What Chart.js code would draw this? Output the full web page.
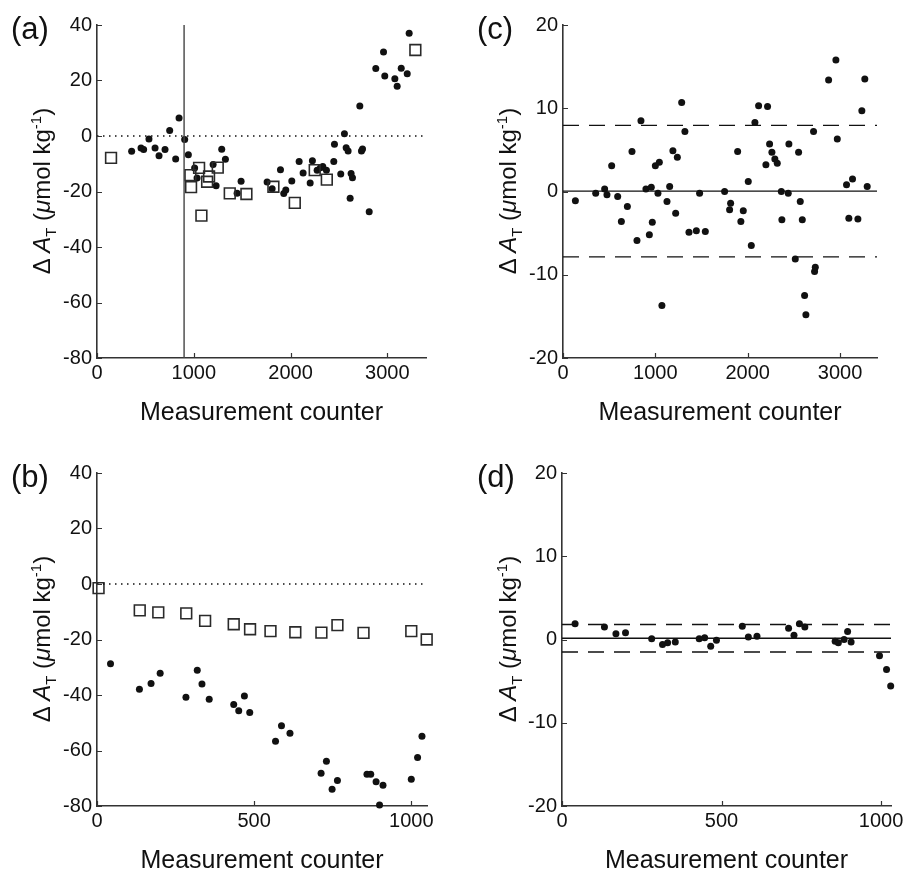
<!DOCTYPE html>
<html lang="en">
<head>
<meta charset="UTF-8">
<title>Delta A_T vs measurement counter</title>
<script src="https://cdn.jsdelivr.net/npm/chart.js"></script>
<style>
    html, body {
        margin: 0;
        padding: 0;
        background: #fff;
        overflow: hidden;
    }
    body {
        width: 906px;
        height: 873px;
        position: relative;
        font-family: 'Liberation Sans', Arial, Helvetica, sans-serif;
        color: #111;
    }
    canvas {
        position: absolute;
    }
    .panel-tag {
        position: absolute;
        font-size: 31px;
        line-height: 1;
    }
    .ytitle {
        position: absolute;
        font-size: 24px;
        white-space: nowrap;
        transform: translate(-50%, -50%) rotate(-90deg);
    }
    .ytitle sub, .ytitle sup {
        font-size: 15px;
        line-height: 0;
    }
</style>
</head>
<body>
<canvas id="chartA" width="414" height="430" style="left:37px; top:8px;"></canvas>
<canvas id="chartC" width="399" height="430" style="left:503px; top:8px;"></canvas>
<canvas id="chartB" width="415" height="430" style="left:37px; top:456px;"></canvas>
<canvas id="chartD" width="414" height="430" style="left:502px; top:456px;"></canvas>

<div class="panel-tag" style="left:11px; top:13px;">(a)</div>
<div class="panel-tag" style="left:477px; top:13px;">(c)</div>
<div class="panel-tag" style="left:11px; top:461px;">(b)</div>
<div class="panel-tag" style="left:477px; top:461px;">(d)</div>

<div class="ytitle" style="left:42px; top:191px;">&Delta; <i>A</i><sub>T</sub> (<i>&mu;</i>mol kg<sup>-1</sup>)</div>
<div class="ytitle" style="left:508px; top:191px;">&Delta; <i>A</i><sub>T</sub> (<i>&mu;</i>mol kg<sup>-1</sup>)</div>
<div class="ytitle" style="left:42px; top:639px;">&Delta; <i>A</i><sub>T</sub> (<i>&mu;</i>mol kg<sup>-1</sup>)</div>
<div class="ytitle" style="left:508px; top:639px;">&Delta; <i>A</i><sub>T</sub> (<i>&mu;</i>mol kg<sup>-1</sup>)</div>

<script>
// tick labels
const longTicks = [0, 1000, 2000, 3000];
const shortTicks = [0, 500, 1000];
const bigYTicks = [-80, -60, -40, -20, 0, 20, 40];
const smallYTicks = [-20, -10, 0, 10, 20];

// panel (a): dots and squares, long series
const aDotX = [358, 455, 482, 537, 600, 641, 703, 751, 813, 848, 906, 944, 1009, 1034, 1200, 1231, 1289, 1327, 1448, 1489,
    1758, 1810, 1896, 1930, 1951, 2013, 2089, 2130, 2203, 2226, 2275, 2309, 2333, 2371, 2447, 2454, 2519, 2557, 2575, 2595,
    2616, 2626, 2640, 2716, 2733, 2744, 2813, 2881, 2961, 2974, 3078, 3102, 3144, 3206, 3226];
const aDotY = [-5.5, -4.3, -4.9, -1.1, -4.3, -7.1, -4.9, 2.0, -8.3, 6.5, -1.3, -6.8, -11.5, -15.1, -10.3, -17.9, -4.8, -8.4, -20.6, -16.3,
    -16.6, -19.0, -12.2, -20.7, -19.5, -16.2, -9.2, -13.3, -16.9, -8.9, -12.3, -11.4, -11.0, -12.3, -9.2, -3.0, -13.7, 0.8, -4.2, -5.4,
    -22.4, -13.5, -15.0, 10.8, -5.4, -4.7, -27.3, 24.3, 30.3, 21.6, 20.6, 17.9, 24.4, 22.4, 37.0];
const aSqX = [145, 965, 972, 1055, 1079, 1138, 1158, 1248, 1372, 1544, 1823, 2044, 2250, 2375, 3290];
const aSqY = [-7.9, -14.1, -18.4, -11.5, -28.7, -16.5, -14.6, -11.4, -20.7, -20.9, -18.3, -24.1, -12.3, -15.7, 31.0];
const aSplit = 900;

// panel (c): residuals, long series
const cX = [134, 354, 451, 476, 527, 592, 632, 697, 747, 801, 844, 898, 935, 956, 967, 1000, 1028, 1043, 1071, 1126,
    1155, 1190, 1220, 1238, 1285, 1320, 1364, 1444, 1479, 1541, 1750, 1804, 1815, 1891, 1926, 1952, 2006, 2039, 2078, 2118,
    2197, 2215, 2237, 2262, 2294, 2320, 2364, 2370, 2439, 2446, 2515, 2551, 2569, 2591, 2616, 2630, 2713, 2724, 2732, 2876,
    2955, 2970, 3070, 3095, 3135, 3193, 3236, 3268, 3294];
const cY = [-1.1, -0.2, 0.3, -0.4, 3.1, -0.6, -3.6, -1.8, 4.8, -5.9, 8.5, 0.3, -5.2, 0.5, -3.7, 3.1, -0.2, 3.5, -13.7, -1.2,
    0.6, 4.9, -2.6, 4.1, 10.7, 7.2, -4.9, -4.7, -0.2, -4.8, 0.0, -2.2, -1.4, 4.8, -3.6, -2.3, 1.2, -6.5, 8.3, 10.3,
    3.2, 10.2, 5.7, 4.7, 3.9, 3.4, 0.0, -3.4, -0.2, 5.7, -8.1, 4.7, -1.2, -3.4, -12.5, -14.8, 7.2, -9.6, -9.1, 13.4,
    15.8, 6.3, 0.8, -3.2, 1.5, -3.3, 9.7, 13.5, 0.6];
const cBands = [0.05, 7.95, -7.85];   // mean, upper, lower

// panel (b): short series
const bSqX = [5, 136, 195, 284, 344, 435, 487, 552, 631, 714, 765, 848, 1000, 1049];
const bSqY = [-1.5, -9.5, -10.2, -10.6, -13.3, -14.5, -16.3, -17.0, -17.4, -17.5, -14.8, -17.6, -17.0, -20.0];
const bDotX = [43, 135, 172, 201, 283, 319, 334, 357, 435, 451, 469, 486, 568, 587, 614, 713, 730, 748, 765, 859,
    871, 888, 899, 910, 1000, 1020, 1034];
const bDotY = [-28.7, -37.9, -35.9, -32.2, -40.8, -31.1, -36.0, -41.5, -43.4, -45.7, -40.4, -46.3, -56.7, -51.1, -53.8, -68.2, -63.9, -74.0, -70.8, -68.6,
    -68.6, -71.3, -79.6, -72.5, -70.4, -62.5, -54.9];

// panel (d): short series residuals
const dX = [41, 133, 169, 199, 281, 315, 331, 355, 430, 447, 466, 484, 565, 584, 611, 710, 727, 744, 761, 856,
    866, 884, 895, 906, 995, 1017, 1030];
const dY = [1.9, 1.5, 0.7, 0.8, 0.1, -0.6, -0.4, -0.3, 0.1, 0.2, -0.8, -0.1, 1.6, 0.3, 0.4, 1.35, 0.5, 1.9, 1.5, -0.2,
    -0.4, 0.0, 0.95, -0.3, -1.95, -3.6, -5.6];
const dBands = [0.15, 1.8, -1.5];

const AXIS = '#333';
const INK = '#111';
const FONT = "'Liberation Sans', Arial, Helvetica, sans-serif";

function pts(xs, ys) {
    return xs.map((x, i) => ({ x: x, y: ys[i] }));
}

function dots(xs, ys) {
    return {
        type: 'scatter', data: pts(xs, ys),
        pointStyle: 'circle', pointRadius: 3.5, pointBorderWidth: 0,
        backgroundColor: INK, borderColor: INK, clip: false
    };
}

function squares(xs, ys) {
    return {
        type: 'scatter', data: pts(xs, ys),
        pointStyle: 'rect', pointRadius: 7.6, pointBorderWidth: 1.6,
        backgroundColor: 'rgba(0,0,0,0)', borderColor: '#2a2a2a', clip: false
    };
}

function hline(y, xmax, dash, width) {
    return {
        type: 'line', data: [{ x: 0, y: y }, { x: xmax, y: y }],
        borderColor: INK, borderWidth: width || 1.2, borderDash: dash || [],
        pointRadius: 0, fill: false
    };
}

function vline(x, ymin, ymax) {
    return {
        type: 'line', data: [{ x: x, y: ymin }, { x: x, y: ymax }],
        borderColor: '#444', borderWidth: 1.4, pointRadius: 0, fill: false
    };
}

// MATLAB-style ticks pointing into the plot box
const inwardTicks = {
    id: 'inwardTicks',
    afterDraw(chart) {
        const ctx = chart.ctx;
        const area = chart.chartArea;
        const xs = chart.scales.x, ys = chart.scales.y;
        ctx.save();
        ctx.strokeStyle = AXIS;
        ctx.lineWidth = 1.2;
        ctx.beginPath();
        xs.ticks.forEach(t => {
            const p = Math.round(xs.getPixelForValue(t.value)) + 0.5;
            ctx.moveTo(p, area.bottom);
            ctx.lineTo(p, area.bottom - 5);
        });
        ys.ticks.forEach(t => {
            const p = Math.round(ys.getPixelForValue(t.value)) + 0.5;
            ctx.moveTo(area.left, p);
            ctx.lineTo(area.left + 5, p);
        });
        ctx.stroke();
        ctx.restore();
    }
};

function makePanel(id, datasets, xr, yr) {
    new Chart(document.getElementById(id), {
        type: 'scatter',
        data: { datasets: datasets },
        options: {
            responsive: false,
            animation: false,
            devicePixelRatio: 1,
            layout: { padding: { top: 16, right: 25, bottom: 0, left: 0 } },
            plugins: { legend: { display: false }, tooltip: { enabled: false } },
            scales: {
                x: {
                    type: 'linear', min: 0, max: xr.max,
                    grid: { display: false, drawTicks: false },
                    border: { display: true, color: AXIS, width: 1.6 },
                    afterBuildTicks(s) { s.ticks = xr.ticks.map(v => ({ value: v })); },
                    ticks: { padding: 3, color: INK, font: { family: FONT, size: 20 }, callback: v => String(v) },
                    title: { display: true, text: 'Measurement counter', color: INK, font: { family: FONT, size: 25 }, padding: { top: 0, bottom: 10 } },
                    afterFit(s) { s.height = 80; }
                },
                y: {
                    type: 'linear', min: yr.ticks[0], max: yr.ticks[yr.ticks.length - 1],
                    grid: { display: false, drawTicks: false },
                    border: { display: true, color: AXIS, width: 1.6 },
                    afterBuildTicks(s) { s.ticks = yr.ticks.map(v => ({ value: v })); },
                    ticks: { padding: 5, color: INK, font: { family: FONT, size: 20 }, callback: v => String(v) },
                    afterFit(s) { s.width = 60; }
                }
            }
        },
        plugins: [inwardTicks]
    });
}

makePanel('chartA', [
    hline(0, 3400, [1.5, 4.5], 1.3),
    vline(aSplit, -80, 40),
    squares(aSqX, aSqY),
    dots(aDotX, aDotY)
], { max: 3400, ticks: longTicks }, { ticks: bigYTicks });

makePanel('chartC', [
    hline(cBands[0], 3400, [], 1.3),
    hline(cBands[1], 3400, [16, 10], 1.3),
    hline(cBands[2], 3400, [16, 10], 1.3),
    dots(cX, cY)
], { max: 3400, ticks: longTicks }, { ticks: smallYTicks });

makePanel('chartB', [
    hline(0, 1050, [1.5, 4.5], 1.3),
    squares(bSqX, bSqY),
    dots(bDotX, bDotY)
], { max: 1050, ticks: shortTicks }, { ticks: bigYTicks });

makePanel('chartD', [
    hline(dBands[0], 1031, [], 1.3),
    hline(dBands[1], 1031, [16, 10], 1.3),
    hline(dBands[2], 1031, [16, 10], 1.3),
    dots(dX, dY)
], { max: 1031, ticks: shortTicks }, { ticks: smallYTicks });
</script>
</body>
</html>
